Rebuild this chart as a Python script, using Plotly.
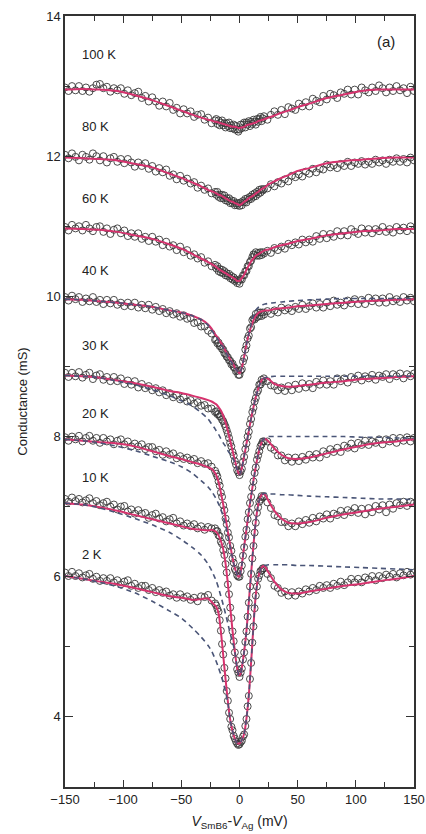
import plotly.graph_objects as go

# Bias grid (mV): 3 mV steps in the wings, 1 mV steps across the zero-bias dip
V = list(range(-150, -20, 3)) + list(range(-20, 21)) + list(range(21, 151, 3))

# Measured differential conductance (mS) on the grid above
G_100K = [12.98, 12.93, 13.00, 12.94, 13.00, 12.93, 12.98, 12.92, 12.97, 13.02,
          13.03, 12.97, 12.99, 12.92, 12.97, 12.94, 12.97, 12.89, 12.94, 12.87,
          12.90, 12.92, 12.83, 12.86, 12.78, 12.84, 12.78, 12.72, 12.78, 12.71,
          12.76, 12.66, 12.69, 12.61, 12.67, 12.61, 12.64, 12.56, 12.59, 12.60,
          12.52, 12.55, 12.47, 12.51,
          12.53, 12.46, 12.51, 12.44, 12.48, 12.51, 12.44, 12.47, 12.41, 12.47,
          12.43, 12.48, 12.40, 12.44, 12.40, 12.45, 12.38, 12.43, 12.38, 12.35, 12.38,
          12.45, 12.40, 12.45, 12.48, 12.41, 12.48, 12.45, 12.50, 12.43, 12.49,
          12.46, 12.52, 12.49, 12.45, 12.53, 12.49, 12.53, 12.56, 12.50, 12.54,
          12.57, 12.52, 12.59, 12.64, 12.59, 12.66, 12.60, 12.70, 12.68, 12.66,
          12.75, 12.71, 12.77, 12.71, 12.82, 12.79, 12.77, 12.86, 12.81, 12.89,
          12.87, 12.83, 12.91, 12.89, 12.95, 12.88, 12.95, 12.88, 12.98, 12.94,
          12.91, 12.98, 12.93, 13.01, 12.97, 12.91, 12.98, 12.93, 13.00, 12.94,
          12.97, 12.90, 12.99, 12.93]

G_80K = [12.02, 11.97, 12.04, 11.99, 11.94, 12.02, 11.99, 11.95, 12.04, 12.00,
         11.94, 12.00, 11.91, 11.97, 11.99, 11.92, 11.96, 11.90, 11.96, 11.91,
         11.85, 11.91, 11.86, 11.90, 11.82, 11.86, 11.78, 11.83, 11.77, 11.81,
         11.72, 11.74, 11.67, 11.72, 11.65, 11.68, 11.61, 11.63, 11.55, 11.58,
         11.52, 11.54, 11.47, 11.49,
         11.45, 11.49, 11.42, 11.45, 11.40, 11.45, 11.40, 11.44, 11.37, 11.40,
         11.36, 11.40, 11.33, 11.37, 11.33, 11.36, 11.30, 11.33, 11.30, 11.33, 11.29,
         11.34, 11.30, 11.36, 11.34, 11.39, 11.34, 11.40, 11.38, 11.42, 11.39,
         11.45, 11.42, 11.47, 11.43, 11.49, 11.46, 11.52, 11.48, 11.53, 11.51,
         11.53, 11.54, 11.60, 11.57, 11.63, 11.61, 11.67, 11.64, 11.72, 11.70,
         11.74, 11.71, 11.78, 11.75, 11.82, 11.77, 11.82, 11.81, 11.88, 11.84,
         11.87, 11.83, 11.89, 11.86, 11.92, 11.86, 11.91, 11.89, 11.93, 11.88,
         11.92, 11.89, 11.95, 11.91, 11.94, 11.89, 11.95, 11.92, 11.97, 11.92,
         11.96, 11.91, 11.98, 11.94]

G_60K = [10.99, 10.94, 11.02, 10.97, 11.00, 10.94, 11.02, 10.97, 10.93, 10.99,
         11.00, 10.92, 10.97, 10.89, 10.95, 10.97, 10.90, 10.94, 10.86, 10.90,
         10.85, 10.90, 10.82, 10.85, 10.79, 10.85, 10.78, 10.81, 10.73, 10.78,
         10.71, 10.73, 10.66, 10.71, 10.63, 10.66, 10.58, 10.60, 10.54, 10.56,
         10.48, 10.50, 10.43, 10.45,
         10.40, 10.43, 10.36, 10.39, 10.34, 10.38, 10.33, 10.36, 10.30, 10.33,
         10.29, 10.32, 10.26, 10.29, 10.24, 10.27, 10.22, 10.24, 10.19, 10.22, 10.18,
         10.25, 10.24, 10.30, 10.30, 10.36, 10.36, 10.43, 10.43, 10.49, 10.51,
         10.56, 10.60, 10.59, 10.63, 10.58, 10.62, 10.58, 10.63, 10.59, 10.63,
         10.61, 10.65, 10.62, 10.69, 10.66, 10.71, 10.68, 10.75, 10.73, 10.77,
         10.74, 10.81, 10.77, 10.81, 10.78, 10.86, 10.82, 10.89, 10.83, 10.89,
         10.85, 10.93, 10.87, 10.93, 10.87, 10.96, 10.92, 10.89, 10.97, 10.91,
         10.96, 10.90, 10.96, 10.93, 10.99, 10.92, 10.96, 10.91, 10.99, 10.94,
         10.98, 10.93, 11.00, 10.95]

G_40K = [9.99, 9.94, 10.01, 9.96, 9.99, 9.92, 9.97, 9.93, 9.99, 9.92,
         9.95, 9.89, 9.95, 9.90, 9.95, 9.88, 9.91, 9.86, 9.91, 9.86,
         9.91, 9.84, 9.88, 9.83, 9.88, 9.81, 9.85, 9.79, 9.82, 9.76,
         9.79, 9.74, 9.76, 9.71, 9.73, 9.68, 9.69, 9.62, 9.63, 9.57,
         9.57, 9.51, 9.47, 9.38,
         9.38, 9.33, 9.34, 9.29, 9.29, 9.25, 9.24, 9.19, 9.18, 9.14,
         9.13, 9.09, 9.08, 9.03, 9.04, 8.99, 8.98, 8.93, 8.94, 8.88, 8.88,
         8.94, 8.96, 9.07, 9.12, 9.24, 9.30, 9.40, 9.44, 9.54, 9.56,
         9.66, 9.68, 9.67, 9.75, 9.70, 9.77, 9.72, 9.77, 9.72, 9.77,
         9.74, 9.79, 9.75, 9.80, 9.77, 9.84, 9.80, 9.83, 9.79, 9.85,
         9.82, 9.88, 9.82, 9.86, 9.90, 9.84, 9.89, 9.84, 9.91, 9.86,
         9.94, 9.88, 9.91, 9.87, 9.94, 9.90, 9.96, 9.89, 9.95, 9.89,
         9.98, 9.93, 9.97, 9.91, 9.97, 9.91, 9.99, 9.93, 9.96, 9.92,
         9.99, 9.94, 9.98, 9.93]

G_30K = [8.91, 8.85, 8.91, 8.86, 8.92, 8.84, 8.88, 8.91, 8.82, 8.87,
         8.89, 8.81, 8.85, 8.79, 8.85, 8.79, 8.83, 8.75, 8.80, 8.74,
         8.79, 8.70, 8.75, 8.69, 8.72, 8.66, 8.69, 8.63, 8.66, 8.59,
         8.62, 8.56, 8.59, 8.53, 8.56, 8.50, 8.52, 8.47, 8.49, 8.44,
         8.45, 8.40, 8.40, 8.35,
         8.36, 8.32, 8.32, 8.29, 8.28, 8.24, 8.22, 8.18, 8.14, 8.09,
         8.04, 7.98, 7.91, 7.86, 7.78, 7.73, 7.65, 7.60, 7.52, 7.49, 7.45,
         7.50, 7.54, 7.64, 7.71, 7.82, 7.90, 8.00, 8.07, 8.18, 8.25,
         8.35, 8.41, 8.50, 8.55, 8.63, 8.66, 8.74, 8.74, 8.81, 8.78,
         8.83, 8.79, 8.73, 8.72, 8.66, 8.70, 8.65, 8.72, 8.66, 8.74,
         8.68, 8.76, 8.70, 8.75, 8.69, 8.78, 8.74, 8.80, 8.74, 8.79,
         8.74, 8.83, 8.79, 8.83, 8.77, 8.85, 8.82, 8.87, 8.80, 8.86,
         8.83, 8.88, 8.81, 8.87, 8.85, 8.89, 8.82, 8.89, 8.86, 8.90,
         8.83, 8.89, 8.86, 8.90]

G_20K = [7.99, 7.94, 8.00, 7.96, 8.01, 7.93, 7.98, 8.01, 7.94, 7.98,
         7.91, 7.98, 7.93, 7.96, 7.89, 7.94, 7.96, 7.89, 7.93, 7.86,
         7.90, 7.86, 7.89, 7.82, 7.85, 7.85, 7.79, 7.81, 7.74, 7.79,
         7.74, 7.76, 7.69, 7.72, 7.68, 7.70, 7.66, 7.68, 7.62, 7.65,
         7.61, 7.62, 7.57, 7.51,
         7.47, 7.43, 7.36, 7.30, 7.20, 7.14, 7.02, 6.95, 6.83, 6.75,
         6.63, 6.56, 6.44, 6.37, 6.26, 6.20, 6.11, 6.08, 6.02, 6.00, 6.00,
         6.08, 6.16, 6.30, 6.42, 6.57, 6.67, 6.82, 6.92, 7.05, 7.14,
         7.27, 7.36, 7.48, 7.56, 7.67, 7.73, 7.79, 7.86, 7.89, 7.93,
         7.93, 7.93, 7.84, 7.81, 7.73, 7.73, 7.66, 7.70, 7.64, 7.70,
         7.65, 7.71, 7.67, 7.74, 7.70, 7.75, 7.70, 7.79, 7.75, 7.82,
         7.78, 7.84, 7.78, 7.87, 7.84, 7.90, 7.83, 7.91, 7.88, 7.94,
         7.88, 7.93, 7.91, 7.96, 7.89, 7.96, 7.93, 7.98, 7.91, 7.98,
         7.94, 7.99, 7.93, 7.98]

G_10K = [7.11, 7.07, 7.13, 7.08, 7.11, 7.06, 7.09, 7.12, 7.05, 7.08,
         7.02, 7.05, 7.07, 7.00, 7.03, 6.96, 7.00, 7.01, 6.93, 6.96,
         6.90, 6.95, 6.90, 6.91, 6.84, 6.88, 6.90, 6.83, 6.85, 6.79,
         6.82, 6.84, 6.76, 6.79, 6.73, 6.76, 6.72, 6.75, 6.69, 6.72,
         6.67, 6.71, 6.69, 6.69,
         6.65, 6.65, 6.59, 6.58, 6.50, 6.47, 6.38, 6.31, 6.18, 6.06,
         5.89, 5.75, 5.56, 5.41, 5.22, 5.08, 4.92, 4.81, 4.68, 4.63, 4.57,
         4.63, 4.69, 4.82, 4.92, 5.07, 5.22, 5.43, 5.63, 5.86, 6.04,
         6.26, 6.44, 6.63, 6.77, 6.91, 6.99, 7.07, 7.10, 7.15, 7.13,
         7.15, 7.06, 6.98, 6.88, 6.86, 6.78, 6.78, 6.72, 6.76, 6.72,
         6.79, 6.75, 6.81, 6.77, 6.84, 6.79, 6.86, 6.83, 6.89, 6.83,
         6.90, 6.88, 6.94, 6.88, 6.95, 6.92, 6.98, 6.91, 6.97, 6.89,
         6.98, 6.92, 7.01, 6.96, 7.02, 6.92, 7.03, 6.97, 7.05, 7.02,
         7.07, 7.01, 7.07, 7.05]

G_2K = [6.06, 6.01, 6.07, 6.01, 6.05, 5.99, 6.02, 6.04, 5.97, 6.00,
        5.94, 5.98, 5.94, 5.98, 5.92, 5.95, 5.89, 5.93, 5.95, 5.87,
        5.90, 5.84, 5.87, 5.87, 5.81, 5.84, 5.78, 5.81, 5.77, 5.79,
        5.73, 5.75, 5.70, 5.75, 5.70, 5.72, 5.67, 5.70, 5.65, 5.72,
        5.71, 5.74, 5.66, 5.62,
        5.59, 5.54, 5.50, 5.38, 5.23, 5.04, 4.89, 4.70, 4.55, 4.37,
        4.23, 4.06, 3.97, 3.86, 3.81, 3.73, 3.69, 3.65, 3.62, 3.60, 3.61,
        3.64, 3.66, 3.72, 3.75, 3.87, 3.97, 4.15, 4.30, 4.54, 4.77,
        5.06, 5.29, 5.55, 5.73, 5.86, 5.97, 6.02, 6.08, 6.09, 6.12,
        6.12, 6.04, 5.98, 5.87, 5.84, 5.77, 5.79, 5.73, 5.78, 5.73,
        5.79, 5.76, 5.82, 5.79, 5.84, 5.81, 5.87, 5.84, 5.88, 5.84,
        5.90, 5.87, 5.93, 5.88, 5.92, 5.97, 5.92, 5.97, 5.92, 5.99,
        5.96, 6.01, 5.95, 6.01, 5.98, 6.03, 6.00, 6.04, 5.99, 6.05,
        6.02, 6.07, 6.03, 6.06]

# Model curves, sampled at common bias knots
FIT_V = [-150, -135, -120, -105, -90, -75, -60, -50, -40, -33, -27, -24, -21, -20,
         -18, -16, -14, -12, -10, -8, -6, -4, -2, -1, 0, 1, 2, 4, 6, 8, 10, 12, 14,
         16, 18, 20, 22, 25, 30, 36, 42, 50, 60, 75, 90, 105, 120, 135, 150]

FIT_100K = [12.95, 12.96, 12.95, 12.93, 12.87, 12.80, 12.71, 12.65, 12.59, 12.55, 12.52, 12.51, 12.49, 12.49,
            12.48, 12.47, 12.46, 12.45, 12.44, 12.43, 12.42, 12.42, 12.41, 12.40, 12.40, 12.41, 12.41, 12.42, 12.44,
            12.45, 12.46, 12.47, 12.48, 12.50, 12.51, 12.52, 12.53, 12.55, 12.58, 12.62, 12.65, 12.70, 12.75, 12.83,
            12.88, 12.93, 12.95, 12.95, 12.95]
FIT_80K = [11.98, 11.97, 11.96, 11.94, 11.89, 11.84, 11.75, 11.69, 11.62, 11.57, 11.52, 11.50, 11.48, 11.47,
           11.45, 11.44, 11.42, 11.40, 11.38, 11.36, 11.35, 11.33, 11.32, 11.31, 11.30, 11.31, 11.32, 11.35, 11.37,
           11.40, 11.42, 11.44, 11.47, 11.49, 11.52, 11.54, 11.56, 11.60, 11.64, 11.69, 11.73, 11.79, 11.83, 11.90,
           11.93, 11.95, 11.97, 11.98, 11.98]
FIT_60K = [10.97, 10.96, 10.95, 10.92, 10.87, 10.82, 10.74, 10.68, 10.60, 10.54, 10.49, 10.46, 10.43, 10.42,
           10.39, 10.37, 10.35, 10.33, 10.31, 10.29, 10.27, 10.25, 10.22, 10.22, 10.22, 10.24, 10.26, 10.31, 10.38,
           10.44, 10.50, 10.54, 10.58, 10.60, 10.62, 10.64, 10.66, 10.67, 10.70, 10.73, 10.75, 10.79, 10.82, 10.87,
           10.90, 10.93, 10.94, 10.96, 10.96]
FIT_40K = [9.96, 9.95, 9.93, 9.91, 9.88, 9.85, 9.80, 9.77, 9.72, 9.67, 9.60, 9.54, 9.46, 9.44,
           9.39, 9.34, 9.28, 9.22, 9.16, 9.10, 9.05, 8.99, 8.94, 8.92, 8.90, 8.93, 8.98, 9.14, 9.32,
           9.46, 9.57, 9.66, 9.72, 9.76, 9.78, 9.79, 9.80, 9.80, 9.82, 9.83, 9.84, 9.86, 9.87, 9.89,
           9.91, 9.93, 9.94, 9.95, 9.96]
FIT_30K = [8.87, 8.86, 8.84, 8.80, 8.76, 8.71, 8.65, 8.62, 8.58, 8.55, 8.52, 8.50, 8.47, 8.46,
           8.42, 8.37, 8.30, 8.20, 8.08, 7.94, 7.80, 7.66, 7.53, 7.48, 7.46, 7.49, 7.55, 7.72, 7.90,
           8.08, 8.26, 8.42, 8.56, 8.68, 8.77, 8.82, 8.84, 8.82, 8.75, 8.72, 8.71, 8.72, 8.74, 8.77,
           8.79, 8.82, 8.83, 8.85, 8.86]
FIT_20K = [7.96, 7.94, 7.92, 7.90, 7.86, 7.79, 7.72, 7.68, 7.63, 7.60, 7.56, 7.54, 7.48, 7.45,
           7.35, 7.20, 7.03, 6.84, 6.64, 6.45, 6.27, 6.12, 6.03, 6.00, 6.01, 6.07, 6.17, 6.43, 6.68,
           6.93, 7.15, 7.37, 7.57, 7.74, 7.87, 7.95, 7.97, 7.93, 7.83, 7.74, 7.69, 7.68, 7.70, 7.76,
           7.82, 7.87, 7.91, 7.93, 7.96]
FIT_10K = [7.05, 7.03, 6.99, 6.94, 6.88, 6.82, 6.76, 6.72, 6.68, 6.67, 6.66, 6.67, 6.65, 6.64,
           6.59, 6.51, 6.39, 6.19, 5.90, 5.57, 5.23, 4.93, 4.69, 4.62, 4.59, 4.62, 4.70, 4.93, 5.23,
           5.64, 6.05, 6.45, 6.79, 7.02, 7.14, 7.18, 7.17, 7.08, 6.94, 6.83, 6.77, 6.76, 6.78, 6.84,
           6.89, 6.93, 6.97, 7.00, 7.03]
FIT_2K = [6.01, 5.97, 5.93, 5.89, 5.84, 5.78, 5.72, 5.70, 5.67, 5.68, 5.69, 5.64, 5.59, 5.57,
          5.48, 5.22, 4.88, 4.54, 4.22, 3.96, 3.80, 3.69, 3.63, 3.62, 3.62, 3.64, 3.67, 3.76, 3.98,
          4.31, 4.78, 5.30, 5.74, 5.98, 6.10, 6.15, 6.14, 6.06, 5.93, 5.82, 5.77, 5.76, 5.79, 5.83,
          5.87, 5.90, 5.94, 5.97, 6.01]

# Reference calculation (dashed) on the same knots
REF_40K = [9.96, 9.95, 9.93, 9.91, 9.88, 9.85, 9.80, 9.77, 9.72, 9.67, 9.59, 9.52, 9.44, 9.42,
           9.37, 9.32, 9.27, 9.21, 9.15, 9.09, 9.04, 8.99, 8.94, 8.92, 8.90, 8.93, 8.98, 9.14, 9.32,
           9.47, 9.60, 9.72, 9.80, 9.84, 9.86, 9.88, 9.89, 9.90, 9.91, 9.92, 9.93, 9.94, 9.95, 9.96,
           9.97, 9.97, 9.97, 9.97, 9.97]
REF_30K = [8.87, 8.86, 8.84, 8.79, 8.74, 8.67, 8.58, 8.51, 8.43, 8.34, 8.25, 8.18, 8.11, 8.08,
           8.03, 7.97, 7.91, 7.86, 7.80, 7.75, 7.70, 7.63, 7.53, 7.48, 7.46, 7.49, 7.55, 7.72, 7.90,
           8.08, 8.26, 8.42, 8.56, 8.68, 8.77, 8.82, 8.84, 8.85, 8.86, 8.86, 8.86, 8.86, 8.86, 8.86,
           8.86, 8.86, 8.86, 8.86, 8.86]
REF_20K = [7.96, 7.94, 7.91, 7.86, 7.80, 7.72, 7.64, 7.57, 7.47, 7.37, 7.28, 7.22, 7.14, 7.11,
           7.04, 6.96, 6.86, 6.74, 6.58, 6.42, 6.27, 6.12, 6.03, 6.00, 6.01, 6.07, 6.17, 6.43, 6.68,
           6.93, 7.15, 7.37, 7.57, 7.74, 7.87, 7.95, 7.98, 8.00, 8.00, 8.00, 8.00, 8.00, 8.00, 8.00,
           8.00, 7.99, 7.99, 7.98, 7.98]
REF_10K = [7.05, 7.03, 6.98, 6.91, 6.83, 6.74, 6.63, 6.53, 6.41, 6.31, 6.18, 6.09, 5.98, 5.94,
           5.84, 5.72, 5.60, 5.47, 5.33, 5.19, 5.07, 4.93, 4.69, 4.62, 4.59, 4.62, 4.70, 4.93, 5.23,
           5.64, 6.05, 6.45, 6.79, 7.02, 7.14, 7.18, 7.19, 7.18, 7.18, 7.17, 7.17, 7.16, 7.15, 7.14,
           7.13, 7.12, 7.11, 7.11, 7.10]
REF_2K = [6.01, 5.97, 5.92, 5.86, 5.77, 5.65, 5.51, 5.41, 5.26, 5.14, 5.02, 4.94, 4.83, 4.79,
          4.70, 4.60, 4.49, 4.36, 4.20, 3.96, 3.80, 3.69, 3.63, 3.62, 3.62, 3.64, 3.67, 3.76, 3.98,
          4.31, 4.78, 5.30, 5.74, 5.98, 6.10, 6.15, 6.16, 6.17, 6.17, 6.17, 6.17, 6.16, 6.16, 6.15,
          6.14, 6.13, 6.12, 6.11, 6.10]

TEMPS = ["100 K", "80 K", "60 K", "40 K", "30 K", "20 K", "10 K", "2 K"]
DATA = [G_100K, G_80K, G_60K, G_40K, G_30K, G_20K, G_10K, G_2K]
FITS = [FIT_100K, FIT_80K, FIT_60K, FIT_40K, FIT_30K, FIT_20K, FIT_10K, FIT_2K]
REFS = {"40 K": REF_40K, "30 K": REF_30K, "20 K": REF_20K, "10 K": REF_10K, "2 K": REF_2K}
LABEL_G = [13.45, 12.42, 11.39, 10.37, 9.30, 8.33, 7.41, 6.32]

FONT = "Liberation Sans, Arial, Helvetica, sans-serif"
INK = "#222222"
FIT_COLOR = "#d6336e"
REF_COLOR = "#4a5577"

fig = go.Figure()

for name, g in zip(TEMPS, DATA):
    fig.add_trace(go.Scatter(
        x=V, y=g, mode="markers", name=name, showlegend=False,
        marker=dict(symbol="circle-open", size=7, color="rgba(55,55,55,0.9)",
                    line=dict(width=1.0)),
    ))

for name, f in zip(TEMPS, FITS):
    fig.add_trace(go.Scatter(
        x=FIT_V, y=f, mode="lines", showlegend=False,
        line=dict(color=FIT_COLOR, width=2, shape="spline", smoothing=0.7),
    ))

for name, r in REFS.items():
    fig.add_trace(go.Scatter(
        x=FIT_V, y=r, mode="lines", showlegend=False,
        line=dict(color=REF_COLOR, width=1.6, dash="5px,4px", shape="spline", smoothing=0.7),
    ))

for name, gy in zip(TEMPS, LABEL_G):
    fig.add_annotation(x=-137, y=gy, text=name, showarrow=False, xanchor="left",
                       yanchor="middle", font=dict(family=FONT, size=13, color=INK))

fig.add_annotation(x=125.5, y=13.64, text="(a)", showarrow=False, xanchor="center",
                   yanchor="middle", font=dict(family=FONT, size=15, color=INK))

axis_common = dict(
    showline=True, linecolor="#333333", linewidth=1.5, mirror="ticks",
    ticks="inside", tickcolor="#333333", tickwidth=1.3,
    showgrid=False, zeroline=False, automargin=False,
    tickfont=dict(family=FONT, size=13, color=INK),
)

fig.update_xaxes(
    range=[-150, 150], tickmode="array", tickvals=[-150, -100, -50, 0, 50, 100, 150],
    ticklen=7,
    minor=dict(tickmode="array", tickvals=[-125, -75, -25, 25, 75, 125], ticks="inside",
               ticklen=5, tickcolor="#333333", tickwidth=1.2),
    title=dict(text="<i>V</i><sub>SmB6</sub>-<i>V</i><sub>Ag</sub> (mV)",
               font=dict(family=FONT, size=14, color=INK), standoff=10),
    **axis_common,
)
fig.update_yaxes(
    range=[3, 14], tickmode="array", tickvals=[4, 6, 8, 10, 12, 14],
    ticklen=8,
    minor=dict(tickmode="array", tickvals=[5, 7, 9, 11, 13], ticks="inside",
               ticklen=5, tickcolor="#333333", tickwidth=1.2),
    title=dict(text="Conductance (mS)", font=dict(family=FONT, size=13, color=INK), standoff=16),
    **axis_common,
)

fig.update_layout(
    width=426, height=834,
    margin=dict(l=65, r=12, t=16, b=47),
    paper_bgcolor="white", plot_bgcolor="white",
    font=dict(family=FONT, color=INK),
)

fig.write_html("out.html")
